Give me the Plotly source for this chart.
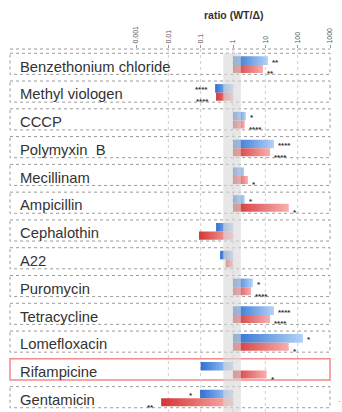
import math
import plotly.graph_objects as go

# Drug panel, top to bottom
drugs = [
    "Benzethonium chloride", "Methyl viologen", "CCCP", "Polymyxin\u00a0 B",
    "Mecillinam", "Ampicillin", "Cephalothin", "A22", "Puromycin",
    "Tetracycline", "Lomefloxacin", "Rifampicine", "Gentamicin",
]
# WT/mutant ratios (blue = upper bar, red = lower bar)
blue_ratio = [12, 0.28, 2.5, 18.5, 2.2, 2.3, 0.30, 0.40, 4.1, 18.5, 145, 0.10, 0.096]
red_ratio = [8.5, 0.30, 2.3, 14, 2.9, 53, 0.089, 0.60, 3.6, 14, 53, 11, 0.006]
blue_sig = ["**", "****", "*", "****", "", "*", "", "", "*", "****", "*", "", "*"]
red_sig = ["**", "****", "****", "****", "*", "*", "", "", "****", "****", "*", "*", "**"]
tick_vals = [0.001, 0.01, 0.1, 1, 10, 100, 1000]
tick_text = ["0.001", "0.01", "0.1", "1", "10", "100", "1000"]
highlight = "Rifampicine"

FONT = "Liberation Sans, Arial, sans-serif"
BLUE_SCALE = [[0, "#2e6fd2"], [1, "#b4d3f7"]]
RED_SCALE = [[0, "#d43434"], [1, "#f8b0b0"]]

fig = go.Figure()


def add_bar(row, value, y0, y1, scale):
    lo, hi = min(1.0, value), max(1.0, value)
    fig.add_trace(go.Scatter(
        x=[lo, hi, hi, lo, lo], y=[row + y0, row + y0, row + y1, row + y1, row + y0],
        mode="lines", line=dict(width=0), fill="toself",
        fillgradient=dict(type="horizontal", colorscale=scale, start=lo, stop=hi),
        hoverinfo="skip", showlegend=False,
    ))


annotations = []
shapes = []

for i, name in enumerate(drugs):
    # row frame
    if name == highlight:
        shapes.append(dict(type="rect", xref="paper", yref="y", x0=0, x1=1,
                           y0=i - 0.38, y1=i + 0.38,
                           line=dict(color="#f28b8b", width=1.5), layer="below"))
    else:
        shapes.append(dict(type="rect", xref="paper", yref="y", x0=0, x1=1,
                           y0=i - 0.38, y1=i + 0.38,
                           line=dict(color="#9a9a9a", width=1, dash="dot"), layer="below"))
    annotations.append(dict(text=name, xref="paper", yref="y", x=0.025, y=i + 0.1,
                            xanchor="left", yanchor="middle", showarrow=False,
                            font=dict(family=FONT, size=14.8, color="#333333")))

    add_bar(i, blue_ratio[i], -0.27, 0.04, BLUE_SCALE)
    add_bar(i, red_ratio[i], 0.04, 0.33, RED_SCALE)

    # significance marks next to the bar tips
    for val, sig, dy in ((blue_ratio[i], blue_sig[i], -0.06), (red_ratio[i], red_sig[i], 0.36)):
        if not sig:
            continue
        right = val >= 1
        annotations.append(dict(text="<b>" + sig + "</b>", xref="x", yref="y",
                                x=math.log10(val), y=i + dy,
                                xanchor="left" if right else "right", yanchor="middle",
                                xshift=3 if right else -6, showarrow=False, borderpad=0,
                                font=dict(family=FONT, size=8, color="#333333")))

# decade grid lines
for t in [0.01, 0.1, 1, 10, 100]:
    shapes.append(dict(type="line", xref="x", yref="paper", x0=t, x1=t,
                       y0=0, y1=1, line=dict(color="#cfcfcf", width=1, dash="dot"), layer="below"))

# top axis line
shapes.append(dict(type="line", xref="paper", yref="paper", x0=0, x1=1, y0=1, y1=1,
                   line=dict(color="#9a9a9a", width=1, dash="dot")))

# shaded band around ratio = 1
shapes.append(dict(type="rect", xref="x", yref="y", x0=0.5, x1=1.75,
                   y0=-0.38, y1=12.6, line=dict(width=0),
                   fillcolor="rgba(217,217,217,0.62)", layer="above"))

annotations.append(dict(text="<b>ratio (WT/\u0394)</b>", xref="x", yref="paper", x=0, y=1.0937,
                        xanchor="center", yanchor="middle", showarrow=False,
                        font=dict(family=FONT, size=10.5, color="#333333")))
annotations.append(dict(text=".", xref="paper", yref="y", x=1.02, y=12.05, xanchor="left",
                        yanchor="middle", showarrow=False,
                        font=dict(family=FONT, size=9, color="#8080a0")))

fig.update_layout(
    width=342, height=412,
    margin=dict(l=10, r=12, t=49, b=0),
    paper_bgcolor="white", plot_bgcolor="white",
    shapes=shapes, annotations=annotations,
    xaxis=dict(type="log", range=[-6.897, 3.0], side="top", showgrid=False, zeroline=False,
               showline=False, tickvals=tick_vals, ticktext=tick_text, tickangle=-90,
               ticks="outside", ticklen=3, tickcolor="#9a9a9a",
               tickfont=dict(family=FONT, size=7, color="#555555"), fixedrange=True),
    yaxis=dict(range=[12.534, -0.533], visible=False, fixedrange=True),
    showlegend=False,
)

fig.write_html("out.html")
